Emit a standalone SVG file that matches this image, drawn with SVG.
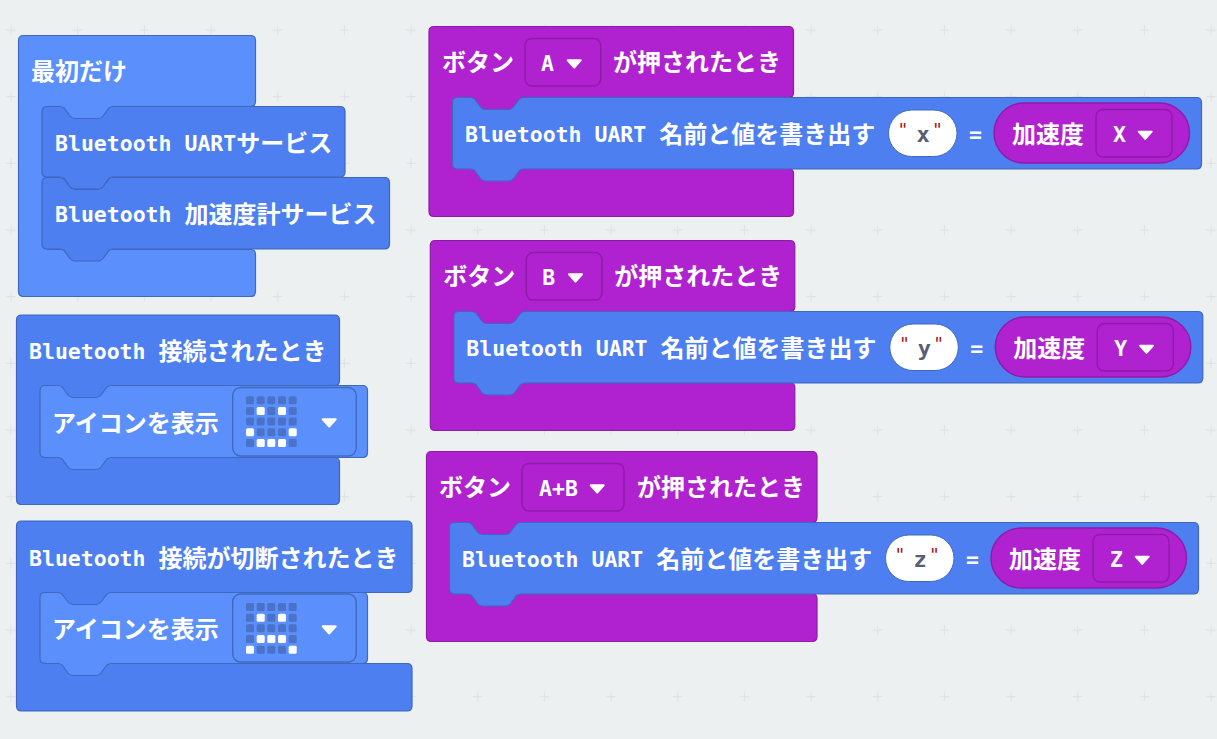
<svg xmlns="http://www.w3.org/2000/svg" width="1217" height="739" viewBox="0 0 1217 739">
<style>
.lb{fill:#5b90fc;stroke:#4069bd;stroke-width:1.2}
.db{fill:#4d7ff0;stroke:#3f66bd;stroke-width:1.2}
.pu{fill:#b022d0;stroke:#8d1ba8;stroke-width:1.2}
.pf{fill:#b022d0;stroke:#8d1ba8;stroke-width:1.4}
.bf{fill:#5b90fc;stroke:#4069bd;stroke-width:1.4}
.wo{fill:#fff;stroke:#4069bd;stroke-width:1}
.flb{fill:#5b90fc}
.fdb{fill:#4d7ff0}
.fpu{fill:#b022d0}
text{fill:#fff;font-family:"Noto Sans CJK JP","Noto Sans",sans-serif;font-size:24px;font-weight:700}
.m{font-family:"DejaVu Sans Mono","Liberation Mono",monospace;font-size:21.5px;font-weight:700}
.q{font-family:"DejaVu Sans Mono",monospace;font-size:18px;font-weight:400;fill:#a31515}
.v{font-family:"DejaVu Sans Mono",monospace;font-size:22px;font-weight:700;fill:#575e75}
.tri{fill:#fff;stroke:#fff;stroke-width:2;stroke-linejoin:round}
.on{fill:#fff}
.off{fill:#4a72c9}
</style>
<defs>
<pattern id="grid" x="-22.33" y="-3.33" width="66.67" height="66.67" patternUnits="userSpaceOnUse">
<path d="M33.33,28.33v10M28.33,33.33h10" stroke="#dde1e2" stroke-width="1" fill="none"/>
</pattern>
<rect id="c" width="8" height="8" rx="1.5"/>
<path id="t" class="tri" d="M1,1H14L7.5,8.2Z"/>
</defs>
<rect width="1217" height="739" fill="#ecf0f1"/>
<rect width="1217" height="739" fill="url(#grid)"/>

<g id="on-start">
<path class="lb" d="M18.5,40.5q0,-5 5,-5H250.5q5,0 5,5V101.5q0,5 -5,5H45V249.5H250.5q5,0 5,5V291.5q0,5 -5,5H23.5q-5,0 -5,-5Z"/>
<rect class="flb" x="41" y="105.5" width="76" height="15"/>
<rect class="flb" x="41" y="105.5" width="6" height="145"/>
<text x="31" y="80">最初だけ</text>
</g>
<g id="bt-uart-service">
<path class="db" d="M42,111.5q0,-5 5,-5h13q2,0 4,1.5l6,8q2,2.5 5,2.5h23q3,0 5,-2.5l6,-8q2,-1.5 4,-1.5H340q5,0 5,5V172q0,5 -5,5H113q-2,0 -4,1.5l-6,8q-2,2.5 -5,2.5h-23q-3,0 -5,-2.5l-6,-8q-2,-1.5 -4,-1.5H47q-5,0 -5,-5Z"/>
<text x="55" y="151"><tspan class="m">Bluetooth UART</tspan><tspan dy="1">サービス</tspan></text>
</g>
<g id="bt-accel-service">
<path class="db" d="M42,182.5q0,-5 5,-5h13q2,0 4,1.5l6,8q2,2.5 5,2.5h23q3,0 5,-2.5l6,-8q2,-1.5 4,-1.5H384.5q5,0 5,5V244q0,5 -5,5H113q-2,0 -4,1.5l-6,8q-2,2.5 -5,2.5h-23q-3,0 -5,-2.5l-6,-8q-2,-1.5 -4,-1.5H47q-5,0 -5,-5Z"/>
<text x="55" y="222"><tspan class="m">Bluetooth </tspan><tspan dy="1">加速度計サービス</tspan></text>
</g>

<g id="bt-connected">
<path class="db" d="M16.5,320q0,-5 5,-5H334.5q5,0 5,5V380.5q0,5 -5,5H43V457.5H334.5q5,0 5,5V499.5q0,5 -5,5H21.5q-5,0 -5,-5Z"/>
<rect class="fdb" x="39" y="384.5" width="76" height="15"/>
<rect class="fdb" x="39" y="384.5" width="6" height="74"/>
<text x="29" y="359"><tspan class="m">Bluetooth </tspan><tspan dy="1">接続されたとき</tspan></text>
<path class="lb" d="M40,390.5q0,-5 5,-5h13q2,0 4,1.5l6,8q2,2.5 5,2.5h23q3,0 5,-2.5l6,-8q2,-1.5 4,-1.5H362.5q5,0 5,5V452.5q0,5 -5,5H111q-2,0 -4,1.5l-6,8q-2,2.5 -5,2.5h-23q-3,0 -5,-2.5l-6,-8q-2,-1.5 -4,-1.5H45q-5,0 -5,-5Z"/>
<text x="52" y="432">アイコンを表示</text>
<rect class="bf" x="232.7" y="387.5" width="123.5" height="68.5" rx="8"/>
<g class="off">
<use href="#c" x="246" y="396.3"/><use href="#c" x="256.7" y="396.3"/><use href="#c" x="267.3" y="396.3"/><use href="#c" x="278" y="396.3"/><use href="#c" x="288.7" y="396.3"/>
<use href="#c" x="246" y="407"/><use href="#c" x="267.3" y="407"/><use href="#c" x="288.7" y="407"/>
<use href="#c" x="246" y="417.6"/><use href="#c" x="256.7" y="417.6"/><use href="#c" x="267.3" y="417.6"/><use href="#c" x="278" y="417.6"/><use href="#c" x="288.7" y="417.6"/>
<use href="#c" x="256.7" y="428.3"/><use href="#c" x="267.3" y="428.3"/><use href="#c" x="278" y="428.3"/>
<use href="#c" x="246" y="439"/><use href="#c" x="288.7" y="439"/>
</g>
<g class="on">
<use href="#c" x="256.7" y="407"/><use href="#c" x="278" y="407"/>
<use href="#c" x="246" y="428.3"/><use href="#c" x="288.7" y="428.3"/>
<use href="#c" x="256.7" y="439"/><use href="#c" x="267.3" y="439"/><use href="#c" x="278" y="439"/>
</g>
<use href="#t" x="321.7" y="418.3"/>
</g>

<g id="bt-disconnected">
<path class="db" d="M16.5,526q0,-5 5,-5H407q5,0 5,5V587.5q0,5 -5,5H43V663.5H407q5,0 5,5V706q0,5 -5,5H21.5q-5,0 -5,-5Z"/>
<rect class="fdb" x="39" y="591.5" width="76" height="15"/>
<rect class="fdb" x="39" y="591.5" width="6" height="73"/>
<text x="29" y="565.5"><tspan class="m">Bluetooth </tspan><tspan dy="1">接続が切断されたとき</tspan></text>
<path class="lb" d="M40,597.5q0,-5 5,-5h13q2,0 4,1.5l6,8q2,2.5 5,2.5h23q3,0 5,-2.5l6,-8q2,-1.5 4,-1.5H362.5q5,0 5,5V658.5q0,5 -5,5H111q-2,0 -4,1.5l-6,8q-2,2.5 -5,2.5h-23q-3,0 -5,-2.5l-6,-8q-2,-1.5 -4,-1.5H45q-5,0 -5,-5Z"/>
<text x="52" y="638">アイコンを表示</text>
<rect class="bf" x="232.7" y="594" width="123.5" height="68" rx="8"/>
<g class="off">
<use href="#c" x="246" y="603"/><use href="#c" x="256.7" y="603"/><use href="#c" x="267.3" y="603"/><use href="#c" x="278" y="603"/><use href="#c" x="288.7" y="603"/>
<use href="#c" x="246" y="613.7"/><use href="#c" x="267.3" y="613.7"/><use href="#c" x="288.7" y="613.7"/>
<use href="#c" x="246" y="624.3"/><use href="#c" x="256.7" y="624.3"/><use href="#c" x="267.3" y="624.3"/><use href="#c" x="278" y="624.3"/><use href="#c" x="288.7" y="624.3"/>
<use href="#c" x="246" y="635"/><use href="#c" x="288.7" y="635"/>
<use href="#c" x="256.7" y="645.7"/><use href="#c" x="267.3" y="645.7"/><use href="#c" x="278" y="645.7"/>
</g>
<g class="on">
<use href="#c" x="256.7" y="613.7"/><use href="#c" x="278" y="613.7"/>
<use href="#c" x="256.7" y="635"/><use href="#c" x="267.3" y="635"/><use href="#c" x="278" y="635"/>
<use href="#c" x="246" y="645.7"/><use href="#c" x="288.7" y="645.7"/>
</g>
<use href="#t" x="321.7" y="625.3"/>
</g>

<g id="button-a">
<path class="pu" d="M429,31.5q0,-5 5,-5H788.5q5,0 5,5V92.5q0,5 -5,5H455.5V168.5H788.5q5,0 5,5V211.5q0,5 -5,5H434q-5,0 -5,-5Z"/>
<rect class="fpu" x="451.5" y="96.5" width="76" height="15"/>
<rect class="fpu" x="451.5" y="96.5" width="6" height="73"/>
<text x="442" y="71">ボタン</text>
<rect class="pf" x="525" y="38.5" width="75.7" height="47.5" rx="7"/>
<text class="m" x="541" y="71">A</text>
<use href="#t" x="566.7" y="59.3"/>
<text x="613" y="71">が押されたとき</text>
<path class="db" d="M452.5,102.5q0,-5 5,-5h13q2,0 4,1.5l6,8q2,2.5 5,2.5h23q3,0 5,-2.5l6,-8q2,-1.5 4,-1.5H1196.5q5,0 5,5V164q0,5 -5,5H523.5q-2,0 -4,1.5l-6,8q-2,2.5 -5,2.5h-23q-3,0 -5,-2.5l-6,-8q-2,-1.5 -4,-1.5H457.5q-5,0 -5,-5Z"/>
<text x="465" y="141.5"><tspan class="m">Bluetooth UART </tspan><tspan dy="1">名前と値を書き出す</tspan></text>
<rect class="wo" x="888.5" y="110" width="68.5" height="46.5" rx="23.2"/>
<text class="q" x="897.6" y="136">"</text><text class="v" x="916.5" y="142">x</text><text class="q" x="932" y="136">"</text>
<text class="m" x="969" y="141.5">=</text>
<rect class="pf" x="994" y="103" width="195.5" height="60" rx="30"/>
<text x="1012" y="143">加速度</text>
<rect class="pf" x="1096" y="109.5" width="76" height="47.5" rx="7"/>
<text class="m" x="1113" y="142">X</text>
<use href="#t" x="1137.7" y="130.7"/>
</g>

<g id="button-b" transform="translate(1.3,214)">
<path class="pu" d="M429,31.5q0,-5 5,-5H788.5q5,0 5,5V92.5q0,5 -5,5H455.5V168.5H788.5q5,0 5,5V211.5q0,5 -5,5H434q-5,0 -5,-5Z"/>
<rect class="fpu" x="451.5" y="96.5" width="76" height="15"/>
<rect class="fpu" x="451.5" y="96.5" width="6" height="73"/>
<text x="442" y="71">ボタン</text>
<rect class="pf" x="525" y="38.5" width="75.7" height="47.5" rx="7"/>
<text class="m" x="541" y="71">B</text>
<use href="#t" x="566.7" y="59.3"/>
<text x="613" y="71">が押されたとき</text>
<path class="db" d="M452.5,102.5q0,-5 5,-5h13q2,0 4,1.5l6,8q2,2.5 5,2.5h23q3,0 5,-2.5l6,-8q2,-1.5 4,-1.5H1196.5q5,0 5,5V164q0,5 -5,5H523.5q-2,0 -4,1.5l-6,8q-2,2.5 -5,2.5h-23q-3,0 -5,-2.5l-6,-8q-2,-1.5 -4,-1.5H457.5q-5,0 -5,-5Z"/>
<text x="465" y="141.5"><tspan class="m">Bluetooth UART </tspan><tspan dy="1">名前と値を書き出す</tspan></text>
<rect class="wo" x="888.5" y="110" width="68.5" height="46.5" rx="23.2"/>
<text class="q" x="897.6" y="136">"</text><text class="v" x="916.5" y="142">y</text><text class="q" x="932" y="136">"</text>
<text class="m" x="969" y="141.5">=</text>
<rect class="pf" x="994" y="103" width="195.5" height="60" rx="30"/>
<text x="1012" y="143">加速度</text>
<rect class="pf" x="1096" y="109.5" width="76" height="47.5" rx="7"/>
<text class="m" x="1113" y="142">Y</text>
<use href="#t" x="1137.7" y="130.7"/>
</g>

<g id="button-ab" transform="translate(-3,425)">
<path class="pu" d="M429.5,31.5q0,-5 5,-5H815q5,0 5,5V92.5q0,5 -5,5H455.5V168.5H815q5,0 5,5V211.5q0,5 -5,5H434.5q-5,0 -5,-5Z"/>
<rect class="fpu" x="451.5" y="96.5" width="76" height="15"/>
<rect class="fpu" x="451.5" y="96.5" width="6" height="73"/>
<text x="442" y="71">ボタン</text>
<rect class="pf" x="525" y="38.5" width="102" height="47.5" rx="7"/>
<text class="m" x="542" y="71">A+B</text>
<use href="#t" x="592.7" y="59.3"/>
<text x="640" y="71">が押されたとき</text>
<path class="db" d="M452.5,102.5q0,-5 5,-5h13q2,0 4,1.5l6,8q2,2.5 5,2.5h23q3,0 5,-2.5l6,-8q2,-1.5 4,-1.5H1196.5q5,0 5,5V164q0,5 -5,5H523.5q-2,0 -4,1.5l-6,8q-2,2.5 -5,2.5h-23q-3,0 -5,-2.5l-6,-8q-2,-1.5 -4,-1.5H457.5q-5,0 -5,-5Z"/>
<text x="465" y="141.5"><tspan class="m">Bluetooth UART </tspan><tspan dy="1">名前と値を書き出す</tspan></text>
<rect class="wo" x="888.5" y="110" width="68.5" height="46.5" rx="23.2"/>
<text class="q" x="897.6" y="136">"</text><text class="v" x="916.5" y="142">z</text><text class="q" x="932" y="136">"</text>
<text class="m" x="969" y="141.5">=</text>
<rect class="pf" x="994" y="103" width="195.5" height="60" rx="30"/>
<text x="1012" y="143">加速度</text>
<rect class="pf" x="1096" y="109.5" width="76" height="47.5" rx="7"/>
<text class="m" x="1113" y="142">Z</text>
<use href="#t" x="1137.7" y="130.7"/>
</g>
</svg>
